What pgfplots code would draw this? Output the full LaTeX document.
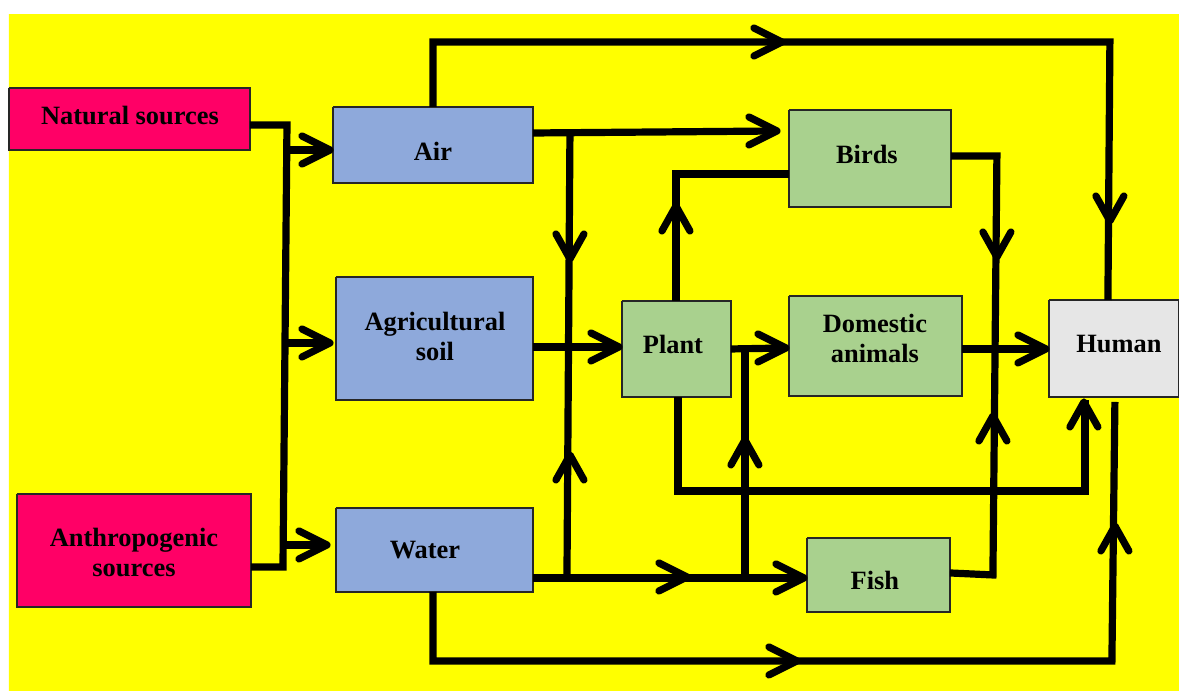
\documentclass[border=0pt]{standalone}
\usepackage{pgfplots}
\pgfplotsset{compat=1.18}
\usepackage{fontspec}
\setmainfont{Liberation Serif}
\definecolor{bgY}{HTML}{FFFF00}
\definecolor{srcM}{HTML}{FF0066}
\definecolor{medB}{HTML}{8EA9DB}
\definecolor{bioG}{HTML}{A9D18E}
\definecolor{humG}{HTML}{E6E6E6}
\pgfplotsset{
 ln/.style={black, line width=3.6pt, line cap=butt, line join=miter, mark=none},
 chev/.style={black, line width=3.6pt, line cap=round, line join=round, mark=none},
 box/.style={draw=black!85, line width=0.6pt, mark=none},
}
\begin{document}
\begin{tikzpicture}
\begin{axis}[x=0.5pt, y=0.5pt, y dir=reverse, xmin=0, xmax=1179, ymin=0, ymax=691,
  hide axis, clip=false, scale only axis,
  nodes={font=\bfseries\fontsize{13.2}{15}\selectfont, align=center, text=black}]
% page and background
\addplot[fill=white, draw=none, mark=none] coordinates {(0,0) (1179,0) (1179,691) (0,691) (0,0)};
\addplot[fill=bgY, draw=none, mark=none] coordinates {(9,14) (1179,14) (1179,691) (9,691) (9,14)};
% boxes
\addplot[box, fill=srcM] coordinates {(9,88) (250,88) (250,150) (9,150) (9,88)};
\addplot[box, fill=srcM] coordinates {(17,494) (251,494) (251,607) (17,607) (17,494)};
\addplot[box, fill=medB] coordinates {(333,107) (533,107) (533,183) (333,183) (333,107)};
\addplot[box, fill=medB] coordinates {(336,277) (533,277) (533,400) (336,400) (336,277)};
\addplot[box, fill=medB] coordinates {(336,508) (533,508) (533,592) (336,592) (336,508)};
\addplot[box, fill=bioG] coordinates {(789,110) (951,110) (951,207) (789,207) (789,110)};
\addplot[box, fill=bioG] coordinates {(622,301) (731,301) (731,397) (622,397) (622,301)};
\addplot[box, fill=bioG] coordinates {(789,296) (962,296) (962,396) (789,396) (789,296)};
\addplot[box, fill=bioG] coordinates {(807,538) (950,538) (950,612) (807,612) (807,538)};
\addplot[box, fill=humG] coordinates {(1049,300) (1178.5,300) (1178.5,397) (1049,397) (1049,300)};
% connecting lines
\addplot[ln] coordinates {(250,125) (287,125) (283,567) (251,567)};
\addplot[ln] coordinates {(287,150) (330,150)};
\addplot[ln] coordinates {(285,343) (330,343)};
\addplot[ln] coordinates {(283,545) (327,545)};
\addplot[ln] coordinates {(433,107) (433,42) (1110,42) (1108,300)};
\addplot[ln] coordinates {(533,133) (777,131)};
\addplot[ln] coordinates {(570,133) (567,578)};
\addplot[ln] coordinates {(533,347) (619,347)};
\addplot[ln] coordinates {(731,349) (786,348)};
\addplot[ln] coordinates {(745,349) (745,578)};
\addplot[ln] coordinates {(533,578) (804,578)};
\addplot[ln] coordinates {(676,301) (676,174) (789,174)};
\addplot[ln] coordinates {(951,156) (997,156) (993,575) (950,573)};
\addplot[ln] coordinates {(962,349) (1046,349)};
\addplot[ln] coordinates {(678,397) (678,491) (1085,491) (1085,400)};
\addplot[ln] coordinates {(433,592) (433,661) (1112,661) (1115,402)};
% right chevrons
\addplot[chev] coordinates {(302,136) (330,150) (302,164)};
\addplot[chev] coordinates {(302,329) (330,343) (302,357)};
\addplot[chev] coordinates {(299,531) (327,545) (299,559)};
\addplot[chev] coordinates {(754,28) (782,42) (754,56)};
\addplot[chev] coordinates {(749,117) (777,131) (749,145)};
\addplot[chev] coordinates {(591,333) (619,347) (591,361)};
\addplot[chev] coordinates {(758,334) (786,348) (758,362)};
\addplot[chev] coordinates {(659,563) (687,577) (659,591)};
\addplot[chev] coordinates {(776,564) (804,578) (776,592)};
\addplot[chev] coordinates {(1018,335) (1046,349) (1018,363)};
\addplot[chev] coordinates {(769,647) (797,661) (769,675)};
% down chevrons
\addplot[chev] coordinates {(1096,196) (1110,221) (1124,196)};
\addplot[chev] coordinates {(556,234) (570,259) (584,234)};
\addplot[chev] coordinates {(983,232) (997,257) (1011,232)};
% up chevrons
\addplot[chev] coordinates {(556,480) (570,455) (584,480)};
\addplot[chev] coordinates {(662,231) (676,206) (690,231)};
\addplot[chev] coordinates {(731,465) (745,440) (759,465)};
\addplot[chev] coordinates {(979,441) (993,416) (1007,441)};
\addplot[chev] coordinates {(1070,427) (1084,402) (1098,427)};
\addplot[chev] coordinates {(1101,551) (1115,526) (1129,551)};
% labels
\node at (axis cs:130,116) {Natural sources};
\node at (axis cs:134,553) {Anthropogenic\\sources};
\node at (axis cs:433,151) {Air};
\node at (axis cs:435,336) {Agricultural\\soil};
\node at (axis cs:425,550) {Water};
\node at (axis cs:867,154) {Birds};
\node at (axis cs:673,344) {Plant};
\node at (axis cs:875,338) {Domestic\\animals};
\node at (axis cs:1119,344) {Human};
\node at (axis cs:875,581) {Fish};
\end{axis}
\end{tikzpicture}
\end{document}
